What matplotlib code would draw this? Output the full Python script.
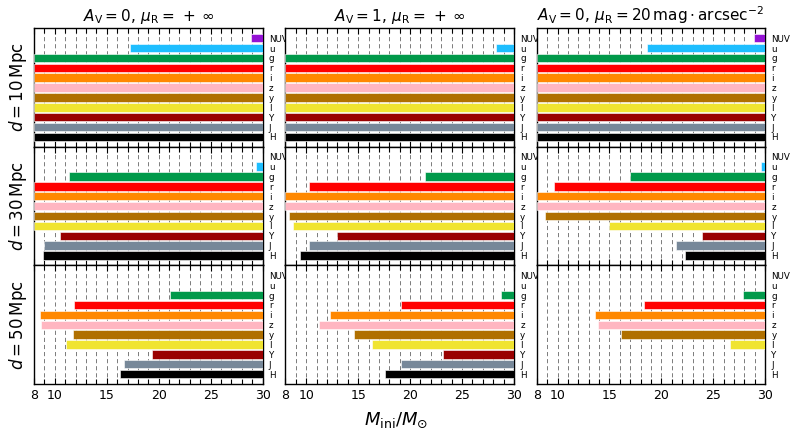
import numpy as np
import matplotlib.pyplot as plt
from matplotlib.ticker import MultipleLocator

# filters (top to bottom) and their colours
bands = ['NUV', 'u', 'g', 'r', 'i', 'z', 'y', 'I', 'Y', 'J', 'H']
band_colors = ['#9412d4', '#1ebeff', '#00994a', '#ff0000', '#ff8800', '#ffb6c1',
               '#b07000', '#f0e430', '#990000', '#778899', '#000000']

titles = [r'$A_{\rm V}=0,\,\mu_{\rm R}=\,+\:\infty$',
          r'$A_{\rm V}=1,\,\mu_{\rm R}=\,+\:\infty$',
          r'$A_{\rm V}=0,\,\mu_{\rm R}=20\,\mathrm{mag}\cdot\mathrm{arcsec}^{-2}$']
row_labels = [r'$d=10\,\mathrm{Mpc}$', r'$d=30\,\mathrm{Mpc}$', r'$d=50\,\mathrm{Mpc}$']

MMIN, MMAX = 8, 30

# lowest detectable initial mass per band (None = not detected); bars run up to 30
# d = 10 Mpc
d10_a0 = [28.9, 17.2, 8, 8, 8, 8, 8, 8, 8, 8, 8]
d10_a1 = [None, 28.3, 8, 8, 8, 8, 8, 8, 8, 8, 8]
d10_mu = [28.95, 18.6, 8, 8, 8, 8, 8, 8, 8, 8, 8]
# d = 30 Mpc
d30_a0 = [None, 29.4, 11.4, 8, 8, 8, 8, 8, 10.5, 9.0, 8.85]
d30_a1 = [None, None, 21.4, 10.25, 8, 8, 8.3, 8.75, 13.0, 10.25, 9.4]
d30_mu = [None, 29.6, 17.0, 9.65, 8, 8.05, 8.75, 14.95, 23.95, 21.4, 22.25]
# d = 50 Mpc
d50_a0 = [None, None, 21.05, 11.85, 8.6, 8.7, 11.7, 11.05, 19.4, 16.7, 16.3]
d50_a1 = [None, None, 28.8, 19.15, 12.3, 11.25, 14.65, 16.35, 23.2, 19.15, 17.6]
d50_mu = [None, None, 27.85, 18.35, 13.65, 13.9, 16.15, 26.6, None, None, None]

grid_data = [[d10_a0, d10_a1, d10_mu],
             [d30_a0, d30_a1, d30_mu],
             [d50_a0, d50_a1, d50_mu]]

fig, axes = plt.subplots(3, 3, figsize=(7.93, 4.40), dpi=100, sharex=True, sharey=True)
fig.subplots_adjust(left=0.043, right=0.965, top=0.9357, bottom=0.1273,
                    hspace=0.0, wspace=0.10)

ypos = np.arange(len(bands))

for r in range(3):
    for c in range(3):
        ax = axes[r][c]
        starts = grid_data[r][c]
        for k in range(len(bands)):
            if starts[k] is None:
                continue
            ax.barh(ypos[k], MMAX - starts[k], left=starts[k], height=0.85,
                    color=band_colors[k], edgecolor='white', linewidth=0.4, zorder=3)
        # dashed vertical lines at each integer mass
        for m in range(MMIN + 1, MMAX):
            ax.axvline(m, color='0.4', linestyle=(0, (5, 3.5)), linewidth=0.6, zorder=1)
        ax.set_xlim(MMIN, MMAX)
        ax.set_ylim(len(bands), -1)
        ax.xaxis.set_major_locator(plt.FixedLocator([8, 10, 15, 20, 25, 30]))
        ax.xaxis.set_minor_locator(MultipleLocator(1))
        ax.tick_params(axis='x', which='both', direction='in', top=True, bottom=True,
                       labelsize=9)
        ax.tick_params(axis='x', which='major', length=4, width=0.8)
        ax.tick_params(axis='x', which='minor', length=3.5, width=0.8)
        ax.set_yticks(ypos)
        ax.set_yticklabels(bands)
        ax.tick_params(axis='y', left=False, right=False, labelleft=False,
                       labelright=True, labelsize=6.3, pad=1)
        for sp in ax.spines.values():
            sp.set_linewidth(1.0)
        if r == 0:
            ax.set_title(titles[c], fontsize=11, pad=5)
        if c == 0:
            ax.set_ylabel(row_labels[r], fontsize=12, labelpad=4)

fig.text(0.5, 0.045, r'$M_{\rm ini}/M_{\odot}$', ha='center', va='center', fontsize=13)

plt.savefig('out.png', dpi=100)
